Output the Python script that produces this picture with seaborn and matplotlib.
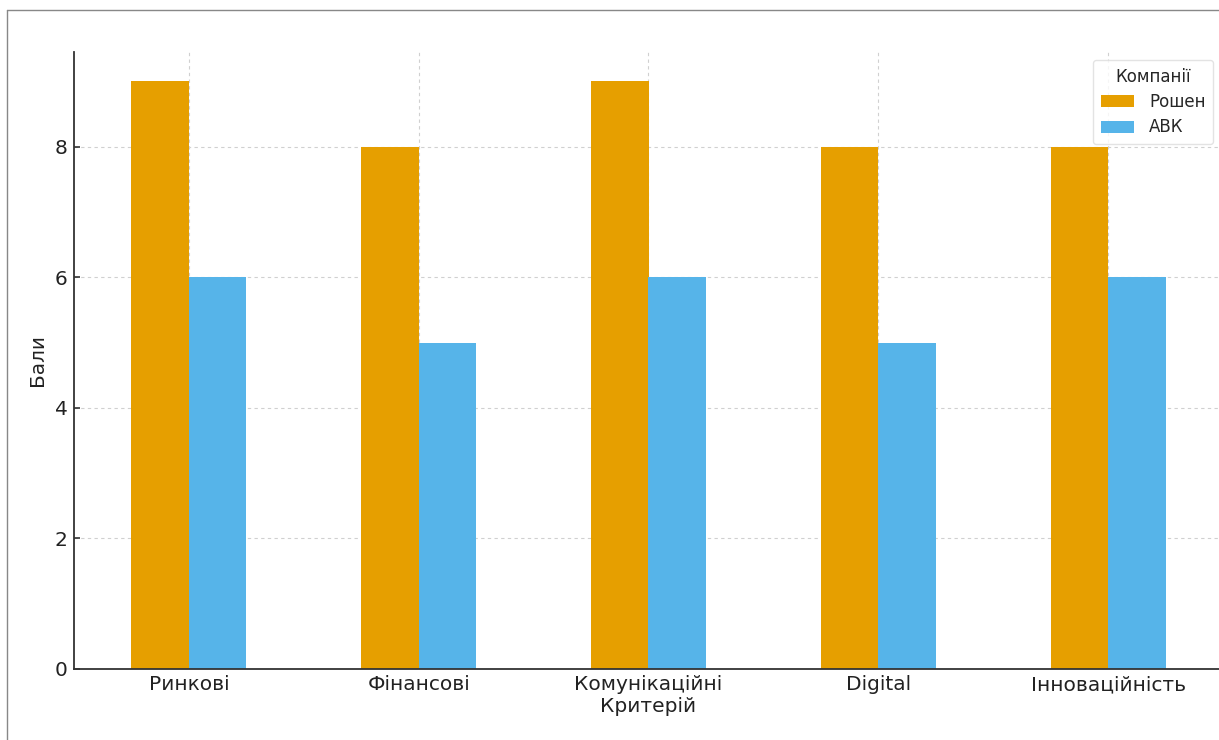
import matplotlib
matplotlib.use("Agg")
import matplotlib.pyplot as plt
import seaborn as sns
import pandas as pd
from matplotlib.lines import Line2D

categories = ["Ринкові", "Фінансові", "Комунікаційні", "Digital", "Інноваційність"]
roshen = [9, 8, 9, 8, 8]
abk = [6, 5, 6, 5, 6]
companies = ["Рошен", "АВК"]
colors = ["#E69F00", "#56B4E9"]

df = pd.DataFrame({
    "Критерій": categories * 2,
    "Бали": roshen + abk,
    "Компанії": [companies[0]] * len(categories) + [companies[1]] * len(categories),
})

sns.set_style("white")
plt.rcParams["font.family"] = ["DejaVu Sans"]

fig = plt.figure(figsize=(12.19, 7.40), dpi=100)
ax = fig.add_axes([74 / 1219, 71 / 740, (1223 - 74) / 1219, (669 - 52) / 740])

sns.barplot(data=df, x="Критерій", y="Бали", hue="Компанії",
            palette=colors, width=0.5, saturation=1, ax=ax, errorbar=None,
            linewidth=0, edgecolor="none")

ax.set_ylim(0, 9.45)
ax.set_xlim(-0.5, len(categories) - 0.5)
ax.set_yticks([0, 2, 4, 6, 8])
ax.tick_params(axis="both", labelsize=14.5, colors="#222222", length=4, width=1.1,
               direction="in", left=True, bottom=True, pad=4.5)
ax.set_xlabel("Критерій", fontsize=14.5, color="#222222", labelpad=2)
ax.set_ylabel("Бали", fontsize=14.5, color="#222222", labelpad=6)
ax.grid(True, linestyle=(0, (3, 3)), color="#d0d0d0", linewidth=0.8)
ax.set_axisbelow(True)
for s in ["top", "right"]:
    ax.spines[s].set_visible(False)
for s in ["left", "bottom"]:
    ax.spines[s].set_color("#333333")
    ax.spines[s].set_linewidth(1.3)

leg = ax.legend(title="Компанії", loc="upper right", fontsize=12, title_fontsize=12,
                frameon=True, bbox_to_anchor=((1213 - 74) / 1149, (669 - 60) / 617),
                borderaxespad=0, handlelength=2.0, handletextpad=0.9,
                borderpad=0.45, labelspacing=0.45)
leg.get_frame().set_edgecolor("#dddddd")

# screenshot frame lines
fig.add_artist(Line2D([7 / 1219, 1.0], [1 - 10 / 740, 1 - 10 / 740], color="#888888", linewidth=1, transform=fig.transFigure))
fig.add_artist(Line2D([7 / 1219, 7 / 1219], [0, 1 - 10 / 740], color="#888888", linewidth=1, transform=fig.transFigure))

fig.savefig("out.png", dpi=100)
